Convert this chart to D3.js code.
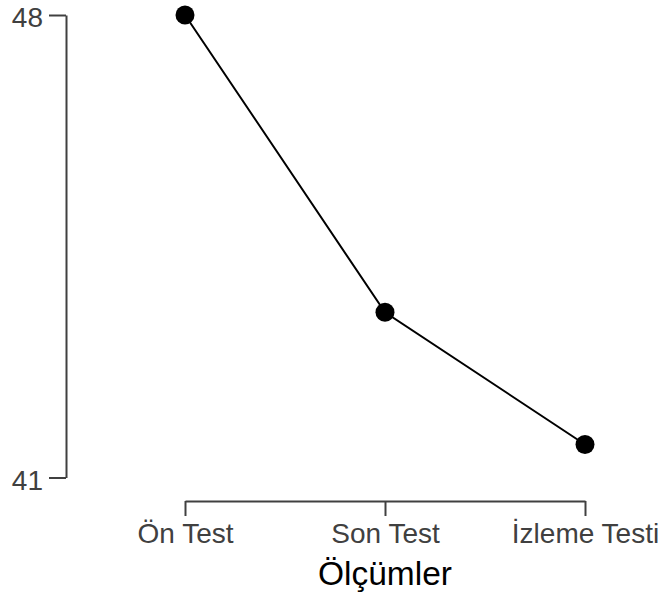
<!DOCTYPE html>
<html>
<head>
<meta charset="utf-8">
<script src="https://cdn.jsdelivr.net/npm/d3@7"></script>
<style>
  html, body { margin: 0; padding: 0; background: #ffffff; }
  svg { display: block; }
</style>
</head>
<body>
<svg id="chart" width="664" height="598"></svg>
<script>
// Measurement occasions and mean scores
const categories = ["Ön Test", "Son Test", "İzleme Testi"];
const values = [48, 43.5, 41.5];
const yTickValues = [41, 48];
const xTitle = "Ölçümler";

const svg = d3.select("#chart");
const font = "'Liberation Sans', Arial, sans-serif";
const axisColor = "#404040";

const x = d3.scalePoint().domain(categories).range([185, 585]);
const y = d3.scaleLinear().domain([41, 48]).range([477.5, 15]);

// Y axis
const yAxis = svg.append("g")
  .attr("transform", "translate(66,0)")
  .call(d3.axisLeft(y).tickValues(yTickValues).tickFormat(d3.format("d"))
    .tickSize(17).tickSizeOuter(0).tickPadding(6));
yAxis.select(".domain").attr("stroke", axisColor).attr("stroke-width", 2);
yAxis.selectAll(".tick line").attr("stroke", axisColor).attr("stroke-width", 2);
yAxis.selectAll(".tick text")
  .attr("font-family", font).attr("font-size", 28)
  .attr("fill", axisColor).attr("dy", "0.42em");

// X axis
const xAxis = svg.append("g")
  .attr("transform", "translate(0,501)")
  .call(d3.axisBottom(x).tickSize(15).tickSizeOuter(0).tickPadding(7));
xAxis.select(".domain").attr("stroke", axisColor).attr("stroke-width", 2);
xAxis.selectAll(".tick line").attr("stroke", axisColor).attr("stroke-width", 2);
xAxis.selectAll(".tick text")
  .attr("font-family", font).attr("font-size", 28)
  .attr("fill", axisColor);

// X axis title
svg.append("text")
  .attr("x", x("Son Test"))
  .attr("y", 585)
  .attr("text-anchor", "middle")
  .attr("font-family", font)
  .attr("font-size", 33.5)
  .attr("fill", "#000")
  .text(xTitle);

const data = categories.map((c, i) => ({ c, v: values[i] }));

// Connecting line
svg.append("path")
  .datum(data)
  .attr("fill", "none")
  .attr("stroke", "#000")
  .attr("stroke-width", 2)
  .attr("d", d3.line().x(d => x(d.c)).y(d => y(d.v)));

// Points
svg.append("g")
  .selectAll("circle")
  .data(data)
  .join("circle")
  .attr("cx", d => x(d.c))
  .attr("cy", d => y(d.v))
  .attr("r", 9.5)
  .attr("fill", "#000");
</script>
</body>
</html>
